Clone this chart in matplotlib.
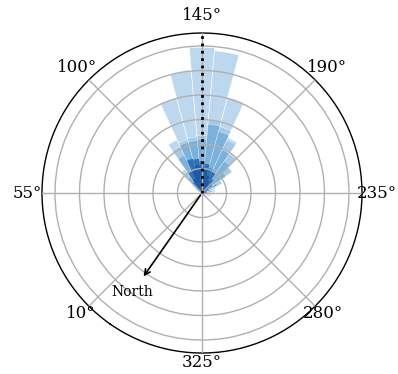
import numpy as np
import matplotlib
matplotlib.use("Agg")
import matplotlib.pyplot as plt

# bin centres (degrees) and layer radii (in ring units)
bins = [85, 95, 105, 115, 125, 135, 145, 155, 165, 175, 185, 195, 205, 215, 225, 235, 245, 255, 265, 275, 285, 295]
layer1 = [0.2, 0.5, 1.2, 2.4, 4.0, 5.0, 5.95, 5.83, 4.05, 2.5, 2.0, 1.5, 0.9, 0.6, 0.55, 0.5, 0.4, 0.35, 0.3, 0.3, 0.25, 0.2]
layer2 = [0.15, 0.4, 1.0, 2.1, 2.25, 2.3, 2.35, 3.0, 2.8, 2.4, 1.95, 1.5, 0.9, 0.5, 0.45, 0.4, 0.3, 0.25, 0.2, 0.2, 0.2, 0.15]
layer3 = [0.1, 0.3, 0.8, 1.7, 2.15, 2.15, 2.2, 2.82, 2.6, 1.95, 1.6, 1.2, 0.7, 0.4, 0.35, 0.3, 0.25, 0.2, 0.15, 0.15, 0.15, 0.1]
layer4 = [0.1, 0.25, 0.55, 1.0, 1.45, 1.4, 1.3, 1.2, 1.05, 0.95, 0.7, 0.5, 0.3, 0.2, 0.2, 0.2, 0.15, 0.1, 0.1, 0.1, 0.1, 0.1]
layer5 = [0.05, 0.1, 0.3, 0.65, 1.0, 1.15, 1.05, 0.95, 0.75, 0.55, 0.4, 0.25, 0.15, 0.1, 0.1, 0.1, 0.1, 0.05, 0.05, 0.05, 0.05, 0.05]
layers = [layer1, layer2, layer3, layer4, layer5]
colors = ['#bdd7ee', '#a4c8e5', '#7bb1da', '#2d72b8', '#1a59a2']
edge_widths = [0.4, 0.3, 0.2, 0.0, 0.0]

tick_angles = [10, 55, 100, 145, 190, 235, 280, 325]
label_radius = [6.97, 7.14, 7.22, 7.24, 7.22, 7.14, 6.97, 6.92]
ring_values = [1, 2, 3, 4, 5, 6]
north_label = "North"

plt.rcParams['font.family'] = 'DejaVu Serif'
fig = plt.figure(figsize=(3.98, 3.74), dpi=100)
ax = fig.add_axes([0.1055, 0.0561, 0.804, 0.8556], projection='polar')
ax.set_theta_direction(-1)
ax.set_theta_offset(np.pi / 2 + np.deg2rad(145))

theta = np.deg2rad(bins)
width = np.deg2rad(10)
for vals, c, ew in zip(layers, colors, edge_widths):
    ax.bar(theta, vals, width=width, bottom=0, color=c,
           edgecolor='white' if ew > 0 else c, linewidth=ew if ew > 0 else 0.0, zorder=2)

rmax = 6.53
ax.set_rlim(0, rmax)
ax.set_yticks(ring_values)
ax.set_yticklabels([])
ax.set_thetagrids(tick_angles, labels=['' for a in tick_angles])
ax.grid(True, color='#b0b0b0', linewidth=1.0, zorder=3)
ax.set_axisbelow(False)
for gl in ax.xaxis.get_gridlines() + ax.yaxis.get_gridlines():
    gl.set_zorder(3)
ax.spines['polar'].set_linewidth(1.0)

# angle labels placed just outside the circle
for a, r in zip(tick_angles, label_radius):
    ax.text(np.deg2rad(a), r, f"{a}°", ha='center', va='center', fontsize=12, clip_on=False)

# dotted reference line at 145°
ax.plot([np.deg2rad(145), np.deg2rad(145)], [0, rmax], color='black', linestyle=':', linewidth=2, zorder=5)

# north arrow
ax.annotate('', xy=(0, 4.27), xytext=(0, 0),
            arrowprops=dict(arrowstyle='->', color='black', lw=1.2), zorder=6)
ax.text(0, 4.95, north_label, ha='center', va='center', fontsize=10)

fig.savefig('out.png', dpi=100)
